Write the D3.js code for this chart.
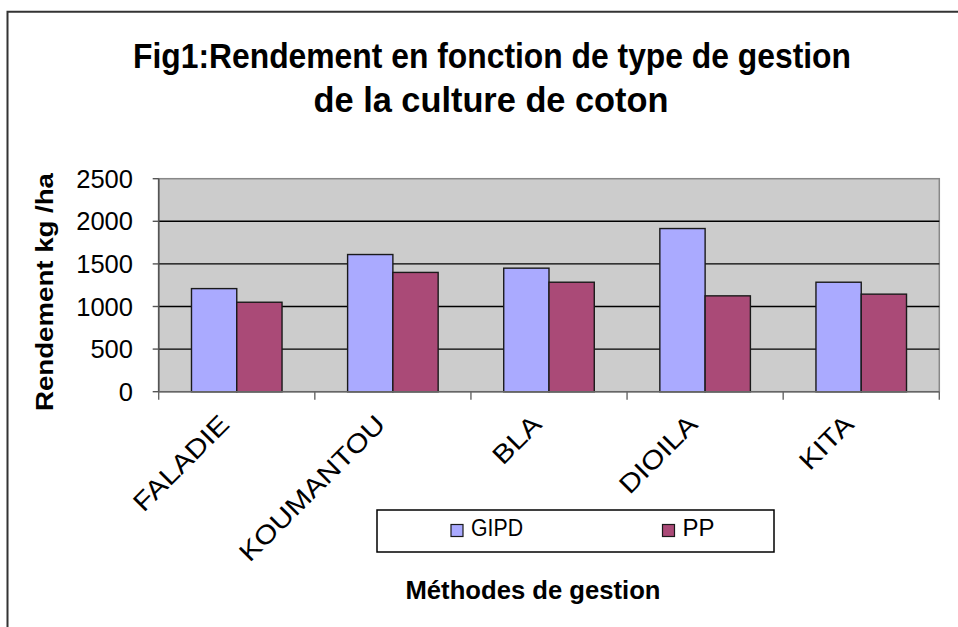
<!DOCTYPE html>
<html>
<head>
<meta charset="utf-8">
<script src="https://cdn.jsdelivr.net/npm/d3@7/dist/d3.min.js"></script>
<style>
  html, body { margin: 0; padding: 0; background: #fff; }
  svg { display: block; font-family: "Liberation Sans", Arial, sans-serif; }
</style>
</head>
<body>
<svg id="chart" width="958" height="627"></svg>
<script>
// ---- data ----
const categories = ["FALADIE", "KOUMANTOU", "BLA", "DIOILA", "KITA"];
const seriesNames = ["GIPD", "PP"];
const gipd = [1210, 1610, 1450, 1915, 1285];
const pp = [1050, 1400, 1285, 1125, 1145];
const yTicks = [0, 500, 1000, 1500, 2000, 2500];
const titleLines = ["Fig1:Rendement en fonction de type de gestion", "de la culture de coton"];
const yTitle = "Rendement kg /ha";
const xTitle = "Méthodes de gestion";

const colors = { GIPD: "#aaaaff", PP: "#aa4a77" };

// ---- layout ----
const svg = d3.select("#chart");
const P = { l: 158.7, r: 939.3, t: 178.7, b: 391.7 };

const x = d3.scaleBand().domain(categories).range([P.l, P.r])
  .paddingInner(0.42).paddingOuter(0.21);
const xs = d3.scaleBand().domain(seriesNames).range([0, x.bandwidth()]);
const y = d3.scaleLinear().domain([0, 2500]).range([P.b, P.t]);

function txt(parent, str, o) {
  const t = parent.append("text")
    .attr("font-size", o.size)
    .attr("font-weight", o.weight || "normal")
    .attr("text-anchor", o.anchor || "start")
    .attr("fill", "#000")
    .text(str);
  if (o.transform) t.attr("transform", o.transform);
  else t.attr("x", o.x).attr("y", o.y);
  if (o.len || o.factor) {
    const nat = t.node().getComputedTextLength();
    t.attr("textLength", o.len || nat * o.factor).attr("lengthAdjust", "spacingAndGlyphs");
  }
  return t;
}

// outer frame
svg.append("path")
  .attr("d", "M7.5,630 L7.5,11.7 L960,11.7")
  .attr("fill", "none").attr("stroke", "#333").attr("stroke-width", 2);

// title
txt(svg, titleLines[0], { x: 492, y: 68, size: 35, weight: "bold", anchor: "middle", len: 718 });
txt(svg, titleLines[1], { x: 491, y: 112, size: 35, weight: "bold", anchor: "middle", len: 355 });

// plot background
svg.append("rect")
  .attr("x", P.l).attr("y", P.t).attr("width", P.r - P.l).attr("height", P.b - P.t)
  .attr("fill", "#cccccc").attr("stroke", "#888").attr("stroke-width", 1.5);

// gridlines
svg.append("g").selectAll("line").data(yTicks.filter(d => d > 0 && d < 2500)).join("line")
  .attr("x1", P.l).attr("x2", P.r)
  .attr("y1", d => y(d)).attr("y2", d => y(d))
  .attr("stroke", "#000").attr("stroke-width", 1.4);

// bars
const groups = svg.append("g").selectAll("g").data(categories).join("g")
  .attr("transform", c => `translate(${x(c)},0)`);
groups.selectAll("rect").data((c, i) => [
  { s: "GIPD", v: gipd[i] }, { s: "PP", v: pp[i] }
]).join("rect")
  .attr("x", d => xs(d.s)).attr("width", xs.bandwidth())
  .attr("y", d => y(d.v)).attr("height", d => y(0) - y(d.v))
  .attr("fill", d => colors[d.s]).attr("stroke", "#1a1a1a").attr("stroke-width", 1.4);

// axes lines
svg.append("line").attr("x1", P.l).attr("x2", P.l).attr("y1", P.t).attr("y2", P.b + 0.5)
  .attr("stroke", "#555").attr("stroke-width", 1.6);
svg.append("line").attr("x1", P.l).attr("x2", P.r).attr("y1", P.b).attr("y2", P.b)
  .attr("stroke", "#666").attr("stroke-width", 1.6);

// y ticks + labels
const yAxisG = svg.append("g");
yAxisG.selectAll("line").data(yTicks).join("line")
  .attr("x1", P.l - 6).attr("x2", P.l).attr("y1", d => y(d)).attr("y2", d => y(d))
  .attr("stroke", "#555").attr("stroke-width", 1.4);
yTicks.forEach(d => {
  const s = String(d);
  txt(yAxisG, s, { x: 133, y: y(d) + 9, size: 25, anchor: "end", len: s.length * 14.2 });
});

// x ticks (category boundaries)
const step = x.step();
const off = (step - x.bandwidth()) / 2;
const bounds = categories.map(c => x(c) - off).concat([x(categories[categories.length - 1]) + x.bandwidth() + off]);
svg.append("g").selectAll("line").data(bounds).join("line")
  .attr("x1", d => d).attr("x2", d => d).attr("y1", P.b).attr("y2", P.b + 8)
  .attr("stroke", "#666").attr("stroke-width", 1.4);

// x labels rotated
categories.forEach(c => {
  const cx = x(c) + x.bandwidth() / 2;
  txt(svg, c, { transform: `translate(${cx - 6},426) rotate(-45)`, size: 26, anchor: "end", factor: 1.15 });
});

// y title
txt(svg, yTitle, { transform: "translate(53,292) rotate(-90)", size: 24, weight: "bold", anchor: "middle", len: 238 });

// x title
txt(svg, xTitle, { x: 533, y: 599, size: 25, weight: "bold", anchor: "middle", len: 255 });

// legend
const lg = svg.append("g");
lg.append("rect").attr("x", 377).attr("y", 510).attr("width", 397).attr("height", 42)
  .attr("fill", "#fff").attr("stroke", "#000").attr("stroke-width", 1.5);
const legX = [451, 662.5];
seriesNames.forEach((s, i) => {
  lg.append("rect").attr("x", legX[i]).attr("y", 524.5).attr("width", 12).attr("height", 12)
    .attr("fill", colors[s]).attr("stroke", "#1a1a1a").attr("stroke-width", 1.2);
  txt(lg, s, { x: legX[i] + 20, y: 536, size: 23, len: s === "GIPD" ? 52 : 32 });
});
</script>
</body>
</html>
